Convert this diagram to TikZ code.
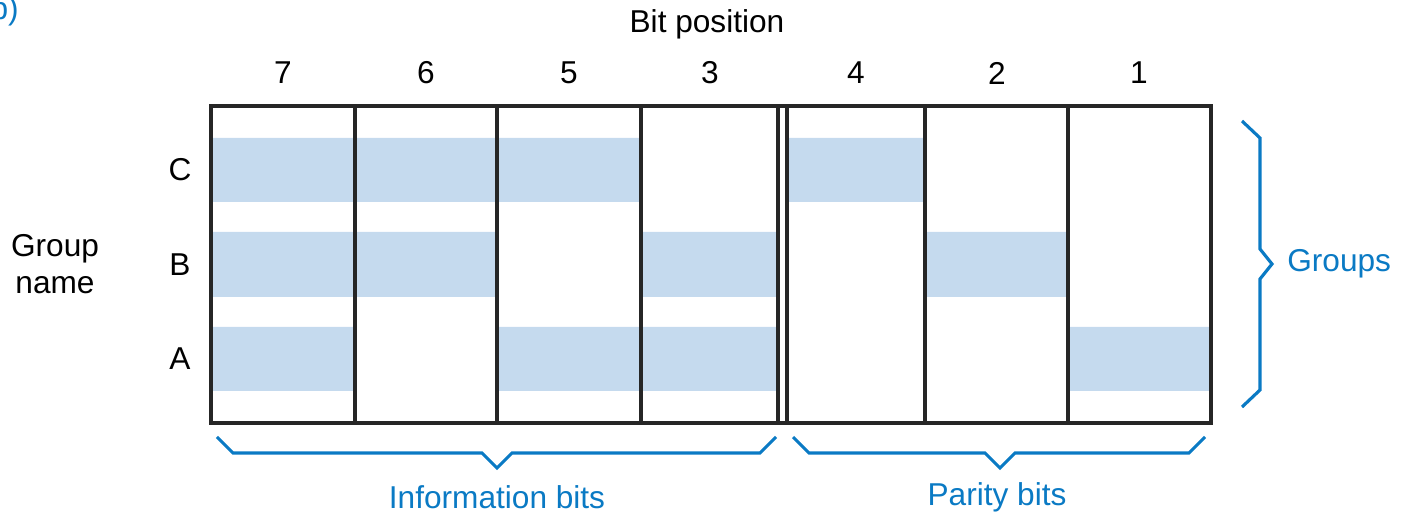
\documentclass[tikz,border=0pt]{standalone}
\usepackage{fontspec}
\setmainfont{Liberation Sans}
\usepackage{tikz}

\definecolor{hamblue}{RGB}{10,122,196}
\definecolor{bandfill}{RGB}{197,218,238}

\begin{document}
\begin{tikzpicture}[x=0.02cm,y=-0.02cm,
  band/.style={fill=bandfill},
  grid/.style={line width=1.8pt,black!85},
  brace/.style={line width=1.8pt,hamblue,line join=miter},
  lbl/.style={font=\fontsize{18}{21}\selectfont,inner sep=0pt},
  bluelbl/.style={lbl,text=hamblue}]
\useasboundingbox (0,0) rectangle (1401,516);

% shaded parts of each group row
\fill[band] (211,138) rectangle (641,202) (787,138) rectangle (925,202);
\fill[band] (211,232) rectangle (497,297) (641,232) rectangle (778,297)
  (925,232) rectangle (1068,297);
\fill[band] (211,327) rectangle (355,391) (497,327) rectangle (778,391)
  (1068,327) rectangle (1211,391);

% outline and column dividers
\draw[grid] (211,106) rectangle (1211,423);
\foreach \x in {355,497,641,778,787,925,1068}
  \draw[grid] (\x,106) -- (\x,423);

% headings
\node[bluelbl,anchor=base east] (part) at (19,20) {b)};
\node[lbl] (bitpos) at (707,24) {Bit position};
\foreach \x/\b in {283/7,426/6,569/5,710/3,856/4,997/2,1139/1}
  \node[lbl] (col\b) at (\x,73) {\b};

\node[lbl] (rowC) at (180,170) {C};
\node[lbl] (rowB) at (180,265) {B};
\node[lbl] (rowA) at (180,359) {A};
\node[lbl,align=center] (gname) at (55,264) {Group\\name};

% braces
\draw[brace] (217,437) -- (233,453) -- (482,453) -- (497,468) -- (512,453)
  -- (760,453) -- (776,437);
\draw[brace] (793,437) -- (809,453) -- (985,453) -- (1000,468) -- (1015,453)
  -- (1189,453) -- (1205,437);
\draw[brace] (1242,121) -- (1260,138) -- (1260,249) -- (1272,264) -- (1260,279)
  -- (1260,390) -- (1242,407);

\node[bluelbl] (info) at (497,497) {Information bits};
\node[bluelbl] (parity) at (997,497) {Parity bits};
\node[bluelbl,anchor=west] (groups) at (1287,264) {Groups};
\end{tikzpicture}
\end{document}
